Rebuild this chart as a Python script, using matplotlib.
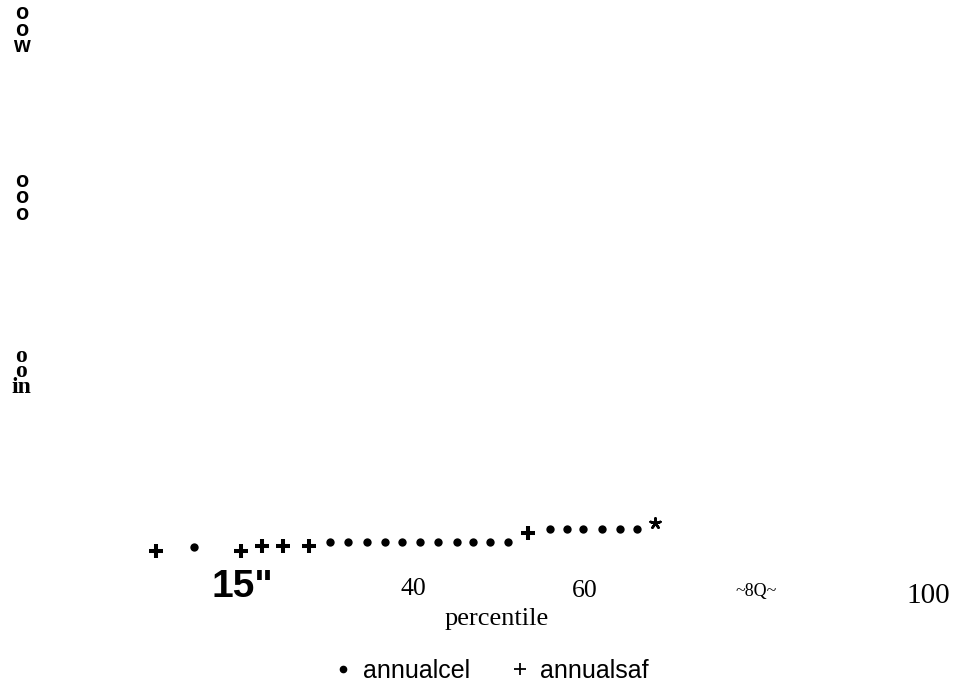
import matplotlib
matplotlib.use('Agg')
import matplotlib.pyplot as plt
from matplotlib.lines import Line2D

# values (x = percentile)
cel_pct = [14.4, 30.2, 32.3, 34.5, 36.6, 38.6, 40.7, 42.8, 45.0, 46.9, 48.9, 51.0,
           55.9, 57.9, 59.7, 62.0, 64.1, 66.0]
cel_val = [-2.3, 1.0, 1.0, 1.0, 1.0, 1.0, 1.0, 1.0, 1.0, 1.0, 1.0, 1.0,
           8.3, 8.3, 8.3, 8.3, 8.3, 8.3]
saf_pct = [9.9, 19.8, 22.3, 24.7, 27.8, 53.3]
saf_val = [-4.4, -4.4, -1.5, -1.5, -1.5, 5.9]
both_pct = [68.1]
both_val = [12.0]

x_ticks = [20, 40, 60, 80, 100]
x_tick_labels = ['15"', '40', '60', '~8Q~', '100']
y_ticks = [299.4, 201.5, 100]
y_tick_labels = ['o\no\nw', 'o\no\no', 'o\no\nin']

# tick label look (fonts differ label by label in the reference)
x_tick_style = [
    dict(family=['Liberation Sans Narrow', 'Liberation Sans'], weight='bold', size=28, y=-31.2),
    dict(family='Liberation Serif', size=18.5, y=-30.0),
    dict(family='Liberation Serif', size=18.5, y=-31.2),
    dict(family='Liberation Serif', size=13, y=-30.6),
    dict(family='Liberation Serif', size=21, y=-34.7),
]
y_tick_style = [
    dict(family='Liberation Sans', weight='bold', size=15.5, linespacing=0.7),
    dict(family='Liberation Sans', weight='bold', size=15.5, linespacing=0.7),
    dict(family='Liberation Serif', weight='bold', size=17, linespacing=0.67),
]

fig = plt.figure(figsize=(9.56, 6.88), dpi=100)
ax = fig.add_axes([0.0743, 0.1727, 0.8964, 0.8225])
ax.set_xlim(0, 100)
ax.set_ylim(-15, 315)
ax.axis('off')

# points
ax.scatter(cel_pct, cel_val, marker='o', s=36, color='black', linewidths=0, clip_on=False)
ax.scatter(saf_pct, saf_val, marker='+', s=100, color='black', linewidths=2.9, clip_on=False)
ax.scatter(both_pct, both_val, marker=(5, 2, 0), s=55, color='black', linewidths=1.8, clip_on=False)

# x tick labels
for xt, lab, st in zip(x_ticks, x_tick_labels, x_tick_style):
    st = dict(st)
    yy = st.pop('y')
    ax.text(xt, yy, lab, ha='center', va='baseline', color='black', **st)

# y tick labels (stacked characters)
for yt, lab, st in zip(y_ticks, y_tick_labels, y_tick_style):
    ax.text(-5.8, yt, lab, ha='center', va='center', multialignment='center',
            color='black', **st)

ax.text(49.7, -47.5, 'percentile', ha='center', va='baseline',
        family='Liberation Serif', size=19, color='black')

handles = [
    Line2D([], [], ls='none', marker='o', ms=4.5, color='black'),
    Line2D([], [], ls='none', marker='+', ms=9, mew=1.3, color='black'),
]
fig.legend(handles, ['annualcel', 'annualsaf'], loc='center',
           bbox_to_anchor=(0.513, 0.0247), ncol=2, frameon=False,
           prop=dict(family='Liberation Sans', size=18),
           handlelength=0.8, handletextpad=0.4, columnspacing=1.6)

fig.savefig('out.png', dpi=100)
